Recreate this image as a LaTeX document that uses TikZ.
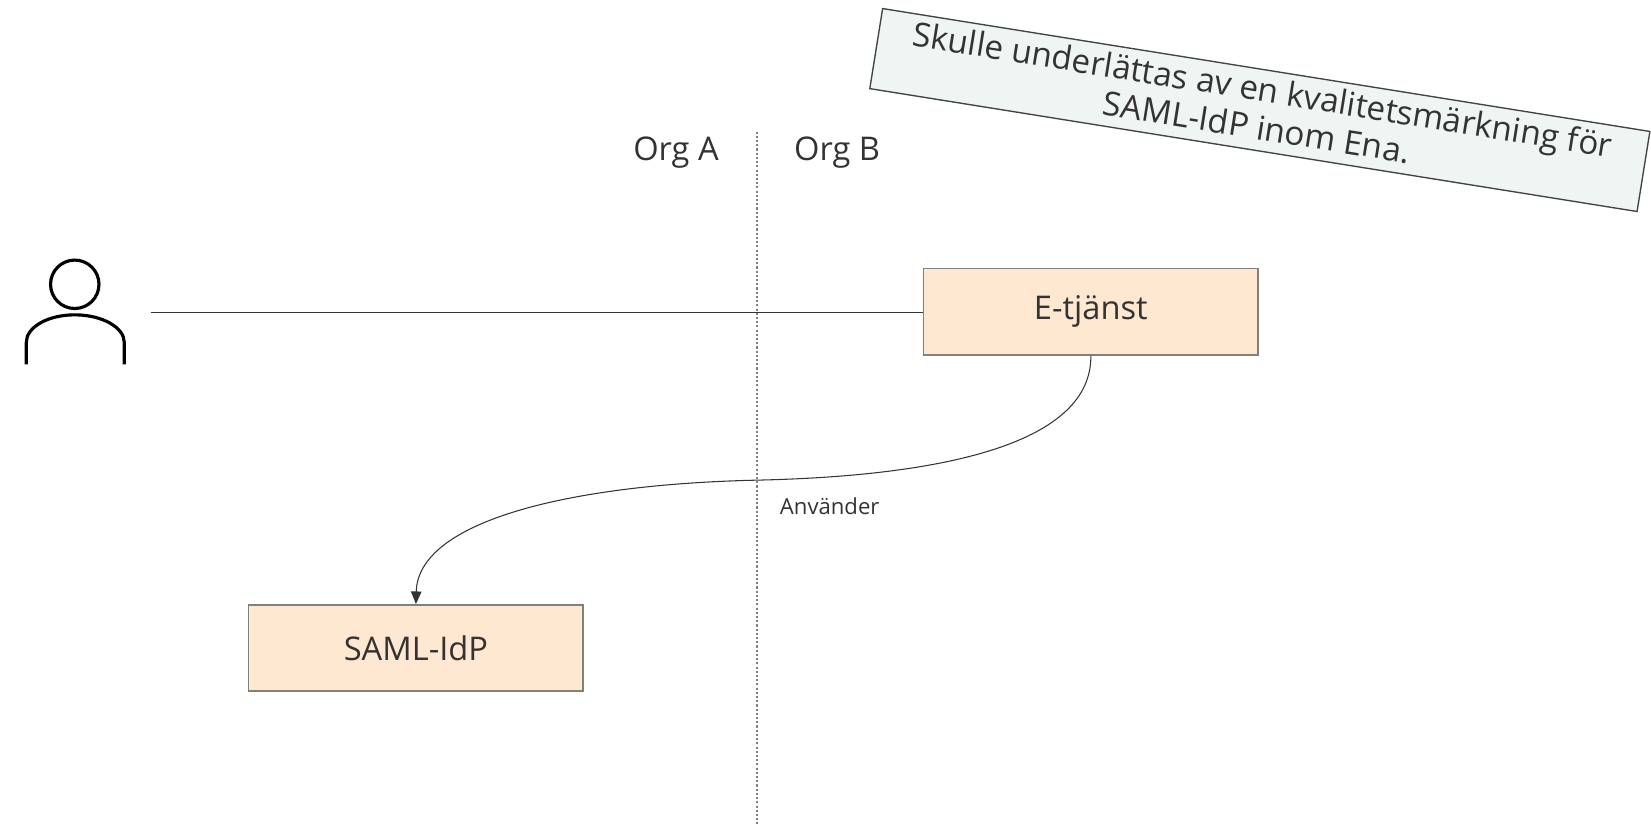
\documentclass[tikz,border=0pt]{standalone}
\usepackage{fontspec}
\setmainfont{Open Sans}
\usetikzlibrary{arrows.meta}
\definecolor{txt}{HTML}{333333}
\definecolor{boxfill}{HTML}{FFE8D1}
\definecolor{boxline}{HTML}{808080}
\definecolor{notefill}{HTML}{EFF5F2}
\definecolor{noteline}{HTML}{444444}
\tikzset{
  sysbox/.style={draw=boxline, line width=1.6pt, fill=boxfill, minimum width=318pt, minimum height=82pt, inner sep=0pt, text=txt, font=\fontsize{31}{38}\selectfont},
  lbl/.style={text=txt, font=\fontsize{31}{38}\selectfont, inner sep=0pt},
  small/.style={text=txt, font=\fontsize{21}{26}\selectfont, inner sep=0pt},
  conn/.style={draw=txt, line width=1pt},
  notebox/.style={draw=noteline, line width=1.3pt, fill=notefill, minimum width=738pt, minimum height=77pt, inner sep=0pt},
  notetext/.style={text=txt, align=center, inner sep=0pt, font=\fontsize{31.6}{36}\selectfont},
}
\begin{document}
\begin{tikzpicture}[x=1pt,y=-1pt]
\useasboundingbox (0,0) rectangle (1568,787);
% divider
\coordinate (dtop) at (719,125);
\coordinate (dbot) at (719,783);
\draw[boxline, line width=1.3pt, dash pattern=on 2pt off 2pt] (dtop) -- (dbot);
\node[lbl] (orga) at (642,145) {Org A};
\node[lbl] (orgb) at (795,145) {Org B};
% person
\node[circle, draw=black, line width=3pt, minimum size=46pt, inner sep=0pt] (head) at (71,270) {};
\draw[black, line width=3pt] (25,346) -- (25,325) .. controls (25,311) and (45,299) .. (71,299) .. controls (97,299) and (118,311) .. (118,325) -- (118,346);
\coordinate (pr) at (143,297);
% boxes
\node[sysbox] (et) at (1036,296) {E-tjänst};
\node[sysbox] (idp) at (395,615.5) {SAML-IdP};
\draw[conn] (pr) -- (et.west |- pr);
\coordinate (mid) at (719,456);
\draw[conn, -{Triangle[length=12pt,width=10pt]}] (et.south) .. controls (1037,420) and (900,452) .. (mid) .. controls (540,460) and (397,495) .. (idp.north);
\node[small] (anv) at (788,481) {Använder};
% note
\node[notebox, rotate=-9.1] (note) at (1196.5,104.5) {};
\node[notetext, rotate=-9.1, anchor=center] (notet) at ([yshift=2pt]note.center) {Skulle underlättas av en kvalitetsmärkning för\\SAML-IdP inom Ena.};
\end{tikzpicture}
\end{document}
